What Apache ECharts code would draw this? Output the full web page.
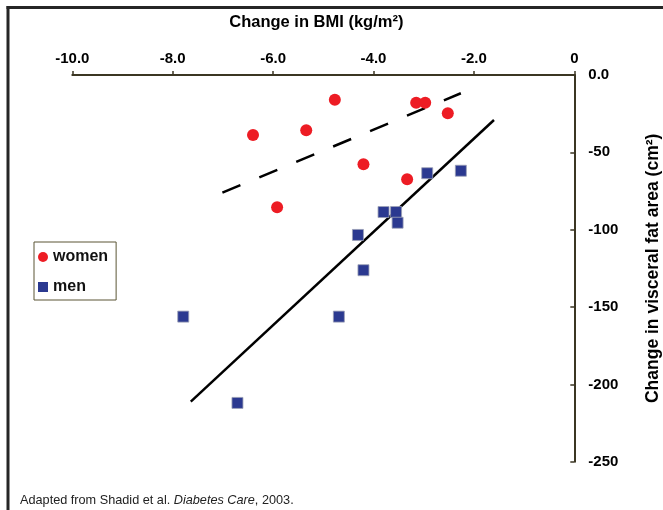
<!DOCTYPE html>
<html>
<head>
<meta charset="utf-8">
<script src="https://cdn.jsdelivr.net/npm/echarts@6/dist/echarts.min.js"></script>
<style>
html,body{margin:0;padding:0;background:#fff;}
#chart{width:663px;height:510px;}
</style>
</head>
<body>
<div id="chart"></div>
<script>
// ---- data ----
const xTicks = [-10, -8, -6, -4, -2, 0];
const xTickLabels = ['-10.0', '-8.0', '-6.0', '-4.0', '-2.0', '0'];
const yTicks = [0, -50, -100, -150, -200, -250];
const yTickLabels = ['0.0', '-50', '-100', '-150', '-200', '-250'];

const womenBMI = [-6.40, -5.34, -4.77, -4.20, -5.92, -3.33, -3.15, -2.97, -2.52];
const womenVFA = [-38.8, -35.7, -16.0, -57.7, -85.5, -67.4, -17.9, -17.9, -24.8];

const menBMI = [-7.79, -6.71, -4.69, -4.31, -4.20, -3.80, -3.55, -3.52, -2.93, -2.26];
const menVFA = [-156.2, -212.0, -156.2, -103.4, -126.2, -88.6, -88.6, -95.5, -63.5, -61.9];

const womenFitBMI = [-7.01, -2.26];
const womenFitVFA = [-76.1, -11.8];
const menFitBMI = [-7.64, -1.60];
const menFitVFA = [-211.2, -29.1];

const zip = (a, b) => a.map((v, i) => [v, b[i]]);

const chart = echarts.init(document.getElementById('chart'), null, {renderer: 'canvas'});
const axisColor = '#3b3623';
const lblFont = {fontFamily: 'Liberation Sans, Arial, sans-serif', fontWeight: 'bold', fontSize: 15, color: '#000'};

chart.setOption({
  animation: false,
  backgroundColor: '#fff',
  grid: {left: 72.3, right: 88.7, top: 75, bottom: 48.3, outerBoundsMode: 'none'},
  xAxis: {
    type: 'value', position: 'top', min: -10, max: 0, interval: 2,
    name: 'Change in BMI (kg/m²)', nameLocation: 'middle', nameGap: 44,
    nameTextStyle: {fontFamily: 'Liberation Sans, Arial, sans-serif', fontWeight: 'bold', fontSize: 16.5, color: '#000', padding: [0, 14, 0, 0]},
    axisLine: {show: true, onZero: false, lineStyle: {color: axisColor, width: 2}},
    axisTick: {show: true, inside: false, length: 4, lineStyle: {color: axisColor, width: 1.5}},
    axisLabel: Object.assign({margin: 9, formatter: v => xTickLabels[xTicks.indexOf(v)] ?? ''}, lblFont),
    splitLine: {show: false}
  },
  yAxis: {
    type: 'value', position: 'right', min: -250, max: 0, interval: 50,
    name: 'Change in visceral fat area (cm²)', nameLocation: 'middle', nameGap: 70, nameRotate: 90,
    nameTextStyle: {fontFamily: 'Liberation Sans, Arial, sans-serif', fontWeight: 'bold', fontSize: 17.5, color: '#000'},
    axisLine: {show: true, onZero: false, lineStyle: {color: axisColor, width: 2}},
    axisTick: {show: true, inside: true, length: 4, lineStyle: {color: axisColor, width: 1.5}},
    axisLabel: Object.assign({margin: 14, formatter: v => yTickLabels[yTicks.indexOf(v)] ?? ''}, lblFont),
    splitLine: {show: false}
  },
  legend: {
    orient: 'vertical', left: 34, top: 242,
    data: [
      {name: 'women', icon: 'circle'},
      {name: 'men', icon: 'rect', itemStyle: {borderWidth: 0}}
    ],
    borderColor: '#5a5535', borderWidth: 1, backgroundColor: '#fff',
    padding: [7, 8, 5, 4],
    itemWidth: 10, itemHeight: 10, itemGap: 14, itemTextGap: 6,
    textStyle: {fontFamily: 'Liberation Sans, Arial, sans-serif', fontWeight: 'bold', fontSize: 16, color: '#111'}
  },
  series: [
    {
      name: 'women-fit', type: 'line', data: zip(womenFitBMI, womenFitVFA),
      symbol: 'none', silent: true, z: 1,
      lineStyle: {color: '#000', width: 2.5, type: [19.5, 20.5]}
    },
    {
      name: 'men-fit', type: 'line', data: zip(menFitBMI, menFitVFA),
      symbol: 'none', silent: true, z: 1,
      lineStyle: {color: '#000', width: 2.5, type: 'solid'}
    },
    {
      name: 'women', type: 'scatter', data: zip(womenBMI, womenVFA),
      symbol: 'circle', symbolSize: 12, z: 3,
      itemStyle: {color: '#ed1c24', opacity: 1}
    },
    {
      name: 'men', type: 'scatter', data: zip(menBMI, menVFA),
      symbol: 'rect', symbolSize: 11, z: 3,
      itemStyle: {color: '#2b3990', borderColor: '#9a9fb5', borderWidth: 0.8, opacity: 1}
    }
  ],
  graphic: [
    {type: 'line', shape: {x1: 6.5, y1: 7.5, x2: 663, y2: 7.5}, style: {stroke: '#262626', lineWidth: 3}, z: 10},
    {type: 'line', shape: {x1: 8, y1: 6, x2: 8, y2: 510}, style: {stroke: '#262626', lineWidth: 3}, z: 10},
    {
      type: 'text', left: 20, top: 494,
      style: {
        text: '{n|Adapted from Shadid et al. }{i|Diabetes Care}{n|, 2003.}',
        rich: {
          n: {fontFamily: 'Liberation Sans, Arial, sans-serif', fontSize: 12.7, fill: '#222'},
          i: {fontFamily: 'Liberation Sans, Arial, sans-serif', fontSize: 12.7, fontStyle: 'italic', fill: '#222'}
        }
      }
    }
  ]
});
</script>
</body>
</html>
